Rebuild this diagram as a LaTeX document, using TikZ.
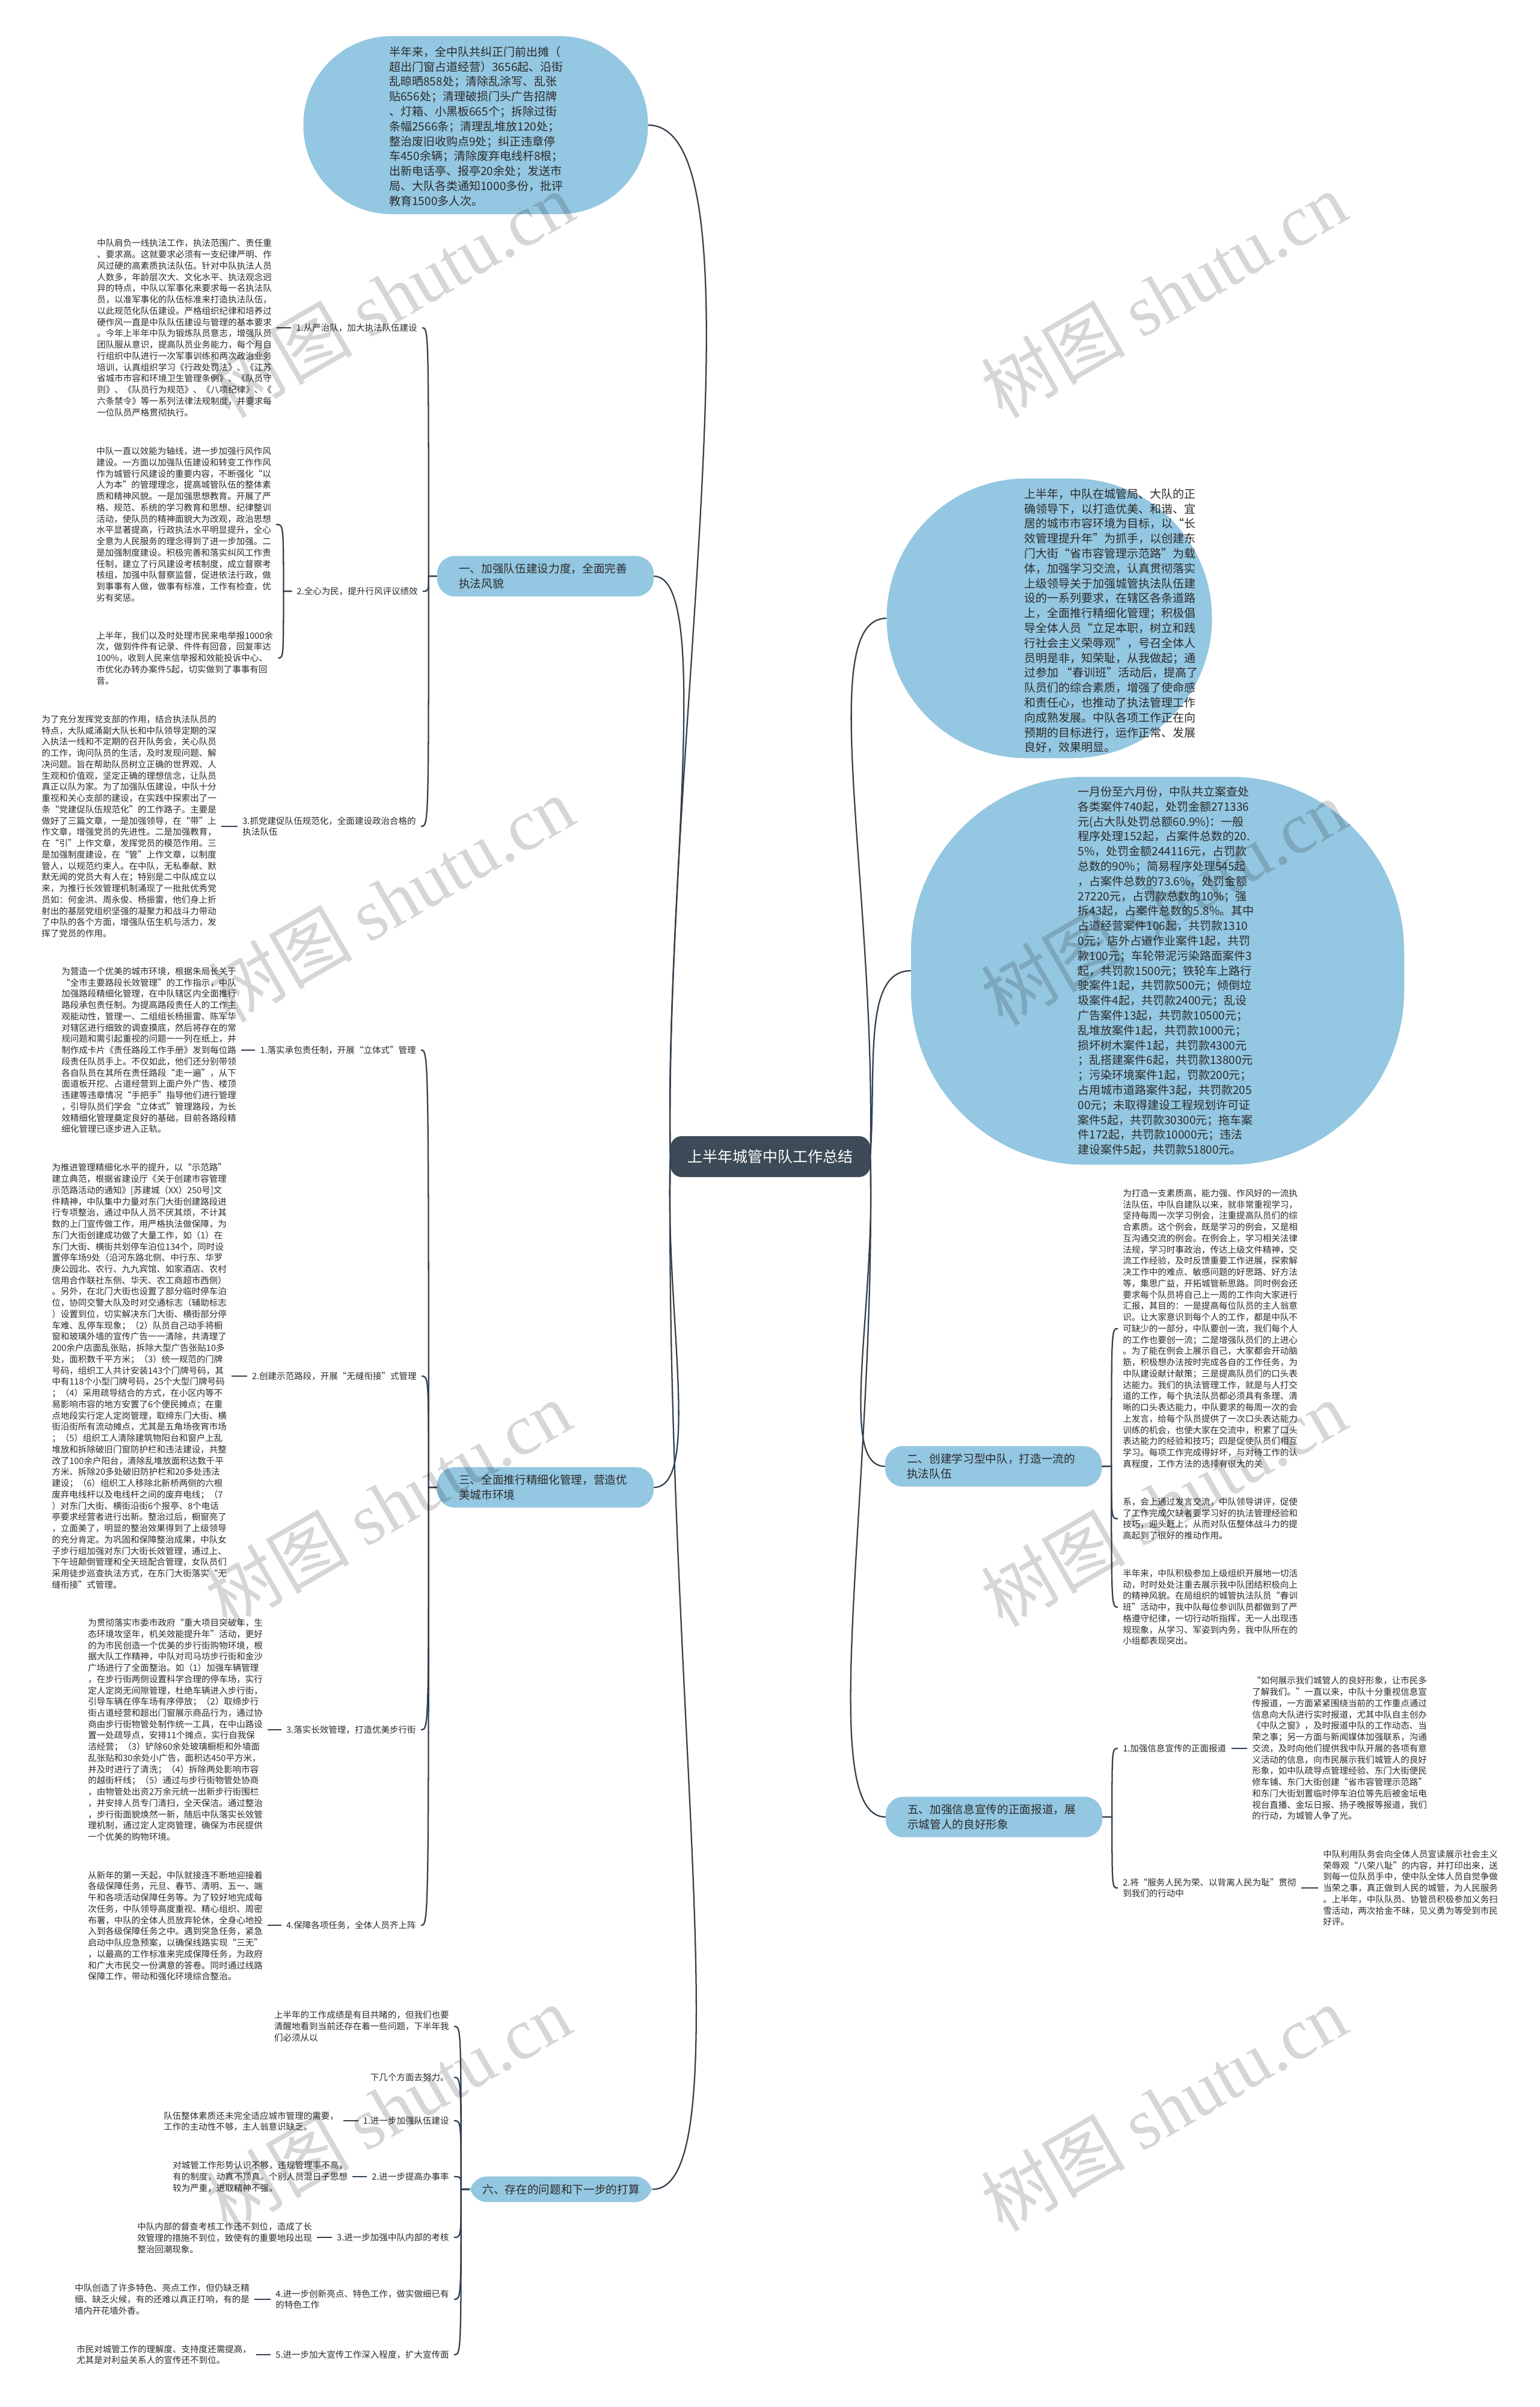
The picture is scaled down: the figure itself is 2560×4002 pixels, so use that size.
\documentclass[tikz,border=0pt]{standalone}
\usepackage{fontspec}
\setmainfont{Noto Sans CJK SC}
\newfontfamily\wmlatin{Liberation Serif}
\usetikzlibrary{positioning,calc}
\definecolor{bub}{HTML}{94C7E1}
\definecolor{rootc}{HTML}{3D4A57}
\definecolor{linec}{HTML}{33414F}
\definecolor{txtc}{HTML}{2B2B2B}
\tikzset{
  conn/.style={draw=linec, line width=1.7pt},
  txt/.style={font=\fontsize{10.9pt}{14.06pt}\selectfont, text=txtc, align=left, inner xsep=6pt, inner ysep=2pt},
  bubble/.style={fill=bub, inner sep=0pt},
  bubtxt/.style={font=\fontsize{14.25pt}{18.6pt}\selectfont, text=txtc, align=left, inner sep=0pt},
  branch/.style={fill=bub, rounded corners=22pt, font=\fontsize{14pt}{18.4pt}\selectfont, text=txtc, align=left, inner ysep=9.5pt},
  wide/.style={text width=216pt, inner xsep=27pt},
  root/.style={fill=rootc, rounded corners=14pt, text=white, font=\fontsize{18.75pt}{22pt}\selectfont, minimum width=249pt, minimum height=51pt},
  brL/.style={to path={-- ++(-#1,0) coordinate (tmpj) .. controls (tmpj |- \tikztotarget) and (tmpj |- \tikztotarget) .. (\tikztotarget)}},
  brL/.default=14,
  brR/.style={to path={-- ++(#1,0) coordinate (tmpj) .. controls (tmpj |- \tikztotarget) and (tmpj |- \tikztotarget) .. (\tikztotarget)}},
  brR/.default=16,
  wmark/.style={rotate=30, text=black, text opacity=0.16, font=\fontsize{90pt}{90pt}\selectfont}
}
\begin{document}
\begin{tikzpicture}[x=0.75pt, y=-0.75pt]
\useasboundingbox (0,0) rectangle (2560,4002);
\fill[white] (0,0) rectangle (2560,4002);

% centre
\node[root] (root) at (1281,1923) {上半年城管中队工作总结};

% top bubble
\node[bubble, minimum width=429.75pt, minimum height=222pt, rounded corners=110pt] (topb) at (791,208) {};
\node[bubtxt] (topbt) at (792,210) {半年来，全中队共纠正门前出摊（\\超出门窗占道经营）3656起、沿街\\乱晾晒858处；清除乱涂写、乱张\\贴656处；清理破损门头广告招牌\\、灯箱、小黑板665个；拆除过街\\条幅2566条；清理乱堆放120处；\\整治废旧收购点9处；纠正违章停\\车450余辆；清除废弃电线杆8根；\\出新电话亭、报亭20余处；发送市\\局、大队各类通知1000多份，批评\\教育1500多人次。};

% branch one
\node[branch, wide] (b1) at (907,958) {一、加强队伍建设力度，全面完善\\执法风貌};
\node[txt, anchor=east] (l11) at (702,545) {1.从严治队，加大执法队伍建设};
\node[txt, anchor=west] (t11) at (153,545) {中队肩负一线执法工作，执法范围广、责任重\\、要求高。这就要求必须有一支纪律严明、作\\风过硬的高素质执法队伍。针对中队执法人员\\人数多，年龄层次大、文化水平、执法观念迥\\异的特点，中队以军事化来要求每一名执法队\\员，以准军事化的队伍标准来打造执法队伍，\\以此规范化队伍建设。严格组织纪律和培养过\\硬作风一直是中队队伍建设与管理的基本要求\\。今年上半年中队为锻炼队员意志，增强队员\\团队服从意识，提高队员业务能力，每个月自\\行组织中队进行一次军事训练和两次政治业务\\培训，认真组织学习《行政处罚法》、《江苏\\省城市市容和环境卫生管理条例》、《队员守\\则》、《队员行为规范》、《八项纪律》、《\\六条禁令》等一系列法律法规制度，并要求每\\一位队员严格贯彻执行。};
\node[txt, anchor=east] (l12) at (703,983) {2.全心为民，提升行风评议绩效};
\node[txt, anchor=west] (t12a) at (152,872) {中队一直以效能为轴线，进一步加强行风作风\\建设。一方面以加强队伍建设和转变工作作风\\作为城管行风建设的重要内容，不断强化“以\\人为本”的管理理念，提高城管队伍的整体素\\质和精神风貌。一是加强思想教育。开展了严\\格、规范、系统的学习教育和思想、纪律整训\\活动，使队员的精神面貌大为改观，政治思想\\水平显著提高，行政执法水平明显提升，全心\\全意为人民服务的理念得到了进一步加强。二\\是加强制度建设。积极完善和落实纠风工作责\\任制，建立了行风建设考核制度，成立督察考\\核组，加强中队督察监督，促进依法行政，做\\到事事有人做，做事有标准，工作有检查，优\\劣有奖惩。};
\node[txt, anchor=west] (t12b) at (152,1094) {上半年，我们以及时处理市民来电举报1000余\\次，做到件件有记录、件件有回音，回复率达\\100\%，收到人民来信举报和效能投诉中心、\\市优化办转办案件5起，切实做到了事事有回\\音。};
\node[txt, anchor=east] (l13) at (700,1374) {3.抓党建促队伍规范化，全面建设政治合格的\\执法队伍};
\node[txt, anchor=west] (t13) at (61,1374) {为了充分发挥党支部的作用，结合执法队员的\\特点，大队咸涌副大队长和中队领导定期的深\\入执法一线和不定期的召开队务会，关心队员\\的工作，询问队员的生活，及时发现问题、解\\决问题。旨在帮助队员树立正确的世界观、人\\生观和价值观，坚定正确的理想信念，让队员\\真正以队为家。为了加强队伍建设，中队十分\\重视和关心支部的建设，在实践中探索出了一\\条“党建促队伍规范化”的工作路子。主要是\\做好了三篇文章，一是加强领导，在“带”上\\作文章，增强党员的先进性。二是加强教育，\\在“引”上作文章，发挥党员的模范作用。三\\是加强制度建设，在“管”上作文章，以制度\\管人，以规范约束人。在中队，无私奉献、默\\默无闻的党员大有人在；特别是二中队成立以\\来，为推行长效管理机制涌现了一批批优秀党\\员如：何金洪、周永俊、杨振雷，他们身上折\\射出的基层党组织坚强的凝聚力和战斗力带动\\了中队的各个方面，增强队伍生机与活力，发\\挥了党员的作用。};

% branch three
\node[branch, wide] (b3) at (907,2473) {三、全面推行精细化管理，营造优\\美城市环境};
\node[txt, anchor=east] (l31) at (700,1746) {1.落实承包责任制，开展“立体式”管理};
\node[txt, anchor=west] (t31) at (94,1746) {为营造一个优美的城市环境，根据朱局长关于\\“全市主要路段长效管理”的工作指示，中队\\加强路段精细化管理，在中队辖区内全面推行\\路段承包责任制。为提高路段责任人的工作主\\观能动性，管理一、二组组长杨振雷、陈军华\\对辖区进行细致的调查摸底，然后将存在的常\\规问题和需引起重视的问题一一列在纸上，并\\制作成卡片《责任路段工作手册》发到每位路\\段责任队员手上。不仅如此，他们还分别带领\\各自队员在其所在责任路段“走一遍”，从下\\面道板开挖、占道经营到上面户外广告、楼顶\\违建等违章情况“手把手”指导他们进行管理\\，引导队员们学会“立体式”管理路段，为长\\效精细化管理奠定良好的基础，目前各路段精\\细化管理已逐步进入正轨。};
\node[txt, anchor=east] (l32) at (701,2288) {2.创建示范路段，开展“无缝衔接”式管理};
\node[txt, anchor=west] (t32) at (78,2288) {为推进管理精细化水平的提升，以“示范路”\\建立典范，根据省建设厅《关于创建市容管理\\示范路活动的通知》[苏建城（XX）250号]文\\件精神，中队集中力量对东门大街创建路段进\\行专项整治，通过中队人员不厌其烦，不计其\\数的上门宣传做工作，用严格执法做保障，为\\东门大街创建成功做了大量工作，如（1）在\\东门大街、横街共划停车泊位134个，同时设\\置停车场9处（沿河东路北侧、中行东、华罗\\庚公园北、农行、九九宾馆、如家酒店、农村\\信用合作联社东侧、华天、农工商超市西侧）\\。另外，在北门大街也设置了部分临时停车泊\\位，协同交警大队及时对交通标志（辅助标志\\）设置到位，切实解决东门大街、横街部分停\\车难、乱停车现象；（2）队员自己动手将橱\\窗和玻璃外墙的宣传广告一一清除，共清理了\\200余户店面乱张贴，拆除大型广告张贴10多\\处，面积数千平方米；（3）统一规范的门牌\\号码，组织工人共计安装143个门牌号码，其\\中有118个小型门牌号码，25个大型门牌号码\\；（4）采用疏导结合的方式，在小区内等不\\易影响市容的地方安置了6个便民摊点；在重\\点地段实行定人定岗管理，取缔东门大街、横\\街沿街所有流动摊点，尤其是五角场夜宵市场\\；（5）组织工人清除建筑物阳台和窗户上乱\\堆放和拆除破旧门窗防护栏和违法建设，共整\\改了100余户阳台，清除乱堆放面积达数千平\\方米、拆除20多处破旧防护栏和20多处违法\\建设；（6）组织工人移除北新桥两侧的六根\\废弃电线杆以及电线杆之间的废弃电线；（7\\）对东门大街、横街沿街6个报亭、8个电话\\亭要求经营者进行出新。整治过后，橱窗亮了\\，立面美了，明显的整治效果得到了上级领导\\的充分肯定。为巩固和保障整治成果，中队女\\子步行组加强对东门大街长效管理，通过上、\\下午班颠倒管理和全天班配合管理，女队员们\\采用徒步巡查执法方式，在东门大街落实“无\\缝衔接”式管理。};
\node[txt, anchor=east] (l33) at (700,2876) {3.落实长效管理，打造优美步行街};
\node[txt, anchor=west] (t33) at (138,2876) {为贯彻落实市委市政府“重大项目突破年，生\\态环境攻坚年，机关效能提升年”活动，更好\\的为市民创造一个优美的步行街购物环境，根\\据大队工作精神，中队对司马坊步行街和金沙\\广场进行了全面整治。如（1）加强车辆管理\\，在步行街两侧设置科学合理的停车场，实行\\定人定岗无间隙管理，杜绝车辆进入步行街，\\引导车辆在停车场有序停放；（2）取缔步行\\街占道经营和超出门窗展示商品行为，通过协\\商由步行街物管处制作统一工具，在中山路设\\置一处疏导点，安排11个摊点，实行自我保\\洁经营；（3）铲除60余处玻璃橱柜和外墙面\\乱张贴和30余处小广告，面积达450平方米，\\并及时进行了清洗；（4）拆除两处影响市容\\的越街杆线；（5）通过与步行街物管处协商\\，由物管处出资2万余元统一出新步行街围栏\\，并安排人员专门清扫，全天保洁。通过整治\\，步行街面貌焕然一新，随后中队落实长效管\\理机制，通过定人定岗管理，确保为市民提供\\一个优美的购物环境。};
\node[txt, anchor=east] (l34) at (700,3201) {4.保障各项任务，全体人员齐上阵};
\node[txt, anchor=west] (t34) at (138,3202) {从新年的第一天起，中队就接连不断地迎接着\\各级保障任务，元旦、春节、清明、五一、端\\午和各项活动保障任务等。为了较好地完成每\\次任务，中队领导高度重视、精心组织、周密\\布署，中队的全体人员放弃轮休，全身心地投\\入到各级保障任务之中。遇到突急任务，紧急\\启动中队应急预案，以确保线路实现“三无”\\，以最高的工作标准来完成保障任务，为政府\\和广大市民交一份满意的答卷。同时通过线路\\保障工作，带动和强化环境综合整治。};

% branch six
\node[branch, inner xsep=16pt] (b6) at (933,3640) {六、存在的问题和下一步的打算};
\node[txt, anchor=east] (t61) at (755,3369) {上半年的工作成绩是有目共睹的，但我们也要\\清醒地看到当前还存在着一些问题，下半年我\\们必须从以};
\node[txt, anchor=east] (t62) at (755,3454) {下几个方面去努力。};
\node[txt, anchor=east] (l61) at (755,3526) {1.进一步加强队伍建设};
\node[txt, anchor=west] (t63) at (264,3527) {队伍整体素质还未完全适应城市管理的需要，\\工作的主动性不够，主人翁意识缺乏。};
\node[txt, anchor=east] (l62) at (755,3619) {2.进一步提高办事率};
\node[txt, anchor=west] (t64) at (279,3619) {对城管工作形势认识不够，违规管理率不高，\\有的制度，动真不顶真。个别人员混日子思想\\较为严重，进取精神不强。};
\node[txt, anchor=east] (l63) at (755,3720) {3.进一步加强中队内部的考核};
\node[txt, anchor=west] (t65) at (220,3721) {中队内部的督查考核工作还不到位，造成了长\\效管理的措施不到位，致使有的重要地段出现\\整治回潮现象。};
\node[txt, anchor=east] (l64) at (755,3823) {4.进一步创新亮点、特色工作，做实做细已有\\的特色工作};
\node[txt, anchor=west] (t66) at (116,3823) {中队创造了许多特色、亮点工作，但仍缺乏精\\细、缺乏火候，有的还难以真正打响，有的是\\墙内开花墙外香。};
\node[txt, anchor=east] (l65) at (755,3915) {5.进一步加大宣传工作深入程度，扩大宣传面};
\node[txt, anchor=west] (t67) at (119,3915) {市民对城管工作的理解度、支持度还需提高，\\尤其是对利益关系人的宣传还不到位。};

% right bubbles
\node[bubble, minimum width=405.75pt, minimum height=348.75pt, rounded corners=174pt] (rb1) at (1745,1028) {};
\node[bubtxt] (rb1t) at (1848,1032) {上半年，中队在城管局、大队的正\\确领导下，以打造优美、和谐、宜\\居的城市市容环境为目标，以“长\\效管理提升年”为抓手，以创建东\\门大街“省市容管理示范路”为载\\体，加强学习交流，认真贯彻落实\\上级领导关于加强城管执法队伍建\\设的一系列要求，在辖区各条道路\\上，全面推行精细化管理；积极倡\\导全体人员“立足本职，树立和践\\行社会主义荣辱观”，号召全体人\\员明是非，知荣耻，从我做起；通\\过参加 “春训班”活动后，提高了\\队员们的综合素质，增强了使命感\\和责任心，也推动了执法管理工作\\向成熟发展。中队各项工作正在向\\预期的目标进行，运作正常、发展\\良好，效果明显。};
\node[bubble, minimum width=615pt, minimum height=483.75pt, rounded corners=217pt] (rb2) at (1925,1614) {};
\node[bubtxt] (rb2t) at (1939,1614) {一月份至六月份，中队共立案查处\\各类案件740起，处罚金额271336\\元(占大队处罚总额60.9\%)：一般\\程序处理152起，占案件总数的20.\\5\%，处罚金额244116元，占罚款\\总数的90\%；简易程序处理545起\\，占案件总数的73.6\%，处罚金额\\27220元，占罚款总数的10\%；强\\拆43起，占案件总数的5.8\%。其中\\占道经营案件106起，共罚款1310\\0元；店外占道作业案件1起，共罚\\款100元；车轮带泥污染路面案件3\\起，共罚款1500元；铁轮车上路行\\驶案件1起，共罚款500元；倾倒垃\\圾案件4起，共罚款2400元；乱设\\广告案件13起，共罚款10500元；\\乱堆放案件1起，共罚款1000元；\\损坏树木案件1起，共罚款4300元\\；乱搭建案件6起，共罚款13800元\\；污染环境案件1起，罚款200元；\\占用城市道路案件3起，共罚款205\\00元；未取得建设工程规划许可证\\案件5起，共罚款30300元；拖车案\\件172起，共罚款10000元；违法\\建设案件5起，共罚款51800元。};

% branch two
\node[branch, wide] (b2) at (1652,2438) {二、创建学习型中队，打造一流的\\执法队伍};
\node[txt, anchor=west] (t21) at (1859,2209) {为打造一支素质高，能力强、作风好的一流执\\法队伍，中队自建队以来，就非常重视学习，\\坚持每周一次学习例会，注重提高队员们的综\\合素质。这个例会，既是学习的例会，又是相\\互沟通交流的例会。在例会上，学习相关法律\\法规，学习时事政治，传达上级文件精神，交\\流工作经验，及时反馈重要工作进展，探索解\\决工作中的难点、敏感问题的好思路、好方法\\等，集思广益，开拓城管新思路。同时例会还\\要求每个队员将自己上一周的工作向大家进行\\汇报，其目的：一是提高每位队员的主人翁意\\识。让大家意识到每个人的工作，都是中队不\\可缺少的一部分，中队要创一流，我们每个人\\的工作也要创一流；二是增强队员们的上进心\\。为了能在例会上展示自己，大家都会开动脑\\筋，积极想办法按时完成各自的工作任务，为\\中队建设献计献策；三是提高队员们的口头表\\达能力。我们的执法管理工作，就是与人打交\\道的工作，每个执法队员都必须具有条理、清\\晰的口头表达能力，中队要求的每周一次的会\\上发言，给每个队员提供了一次口头表达能力\\训练的机会，也使大家在交流中，积累了口头\\表达能力的经验和技巧；四是促使队员们相互\\学习。每项工作完成得好坏，与对待工作的认\\真程度，工作方法的选择有很大的关};
\node[txt, anchor=west] (t22) at (1859,2525) {系，会上通过发言交流，中队领导讲评，促使\\了工作完成欠缺者要学习好的执法管理经验和\\技巧，迎头赶上，从而对队伍整体战斗力的提\\高起到了很好的推动作用。};
\node[txt, anchor=west] (t23) at (1859,2672) {半年来，中队积极参加上级组织开展地一切活\\动，时时处处注重去展示我中队团结积极向上\\的精神风貌。在局组织的城管执法队员“春训\\班”活动中，我中队每位参训队员都做到了严\\格遵守纪律，一切行动听指挥，无一人出现违\\规现象，从学习、军姿到内务，我中队所在的\\小组都表现突出。};

% branch five
\node[branch, wide] (b5) at (1653,3021) {五、加强信息宣传的正面报道，展\\示城管人的良好形象};
\node[txt, anchor=west] (l51) at (1859,2907) {1.加强信息宣传的正面报道};
\node[txt, anchor=west] (t51) at (2074,2907) {“如何展示我们城管人的良好形象，让市民多\\了解我们。”一直以来，中队十分重视信息宣\\传报道，一方面紧紧围绕当前的工作重点通过\\信息向大队进行实时报道，尤其中队自主创办\\《中队之窗》，及时报道中队的工作动态、当\\荣之事；另一方面与新闻媒体加强联系，沟通\\交流，及时向他们提供我中队开展的各项有意\\义活动的信息，向市民展示我们城管人的良好\\形象，如中队疏导点管理经验、东门大街便民\\修车铺、东门大街创建“省市容管理示范路”\\和东门大街划置临时停车泊位等先后被金坛电\\视台直播、金坛日报、扬子晚报等报道，我们\\的行动，为城管人争了光。};
\node[txt, anchor=west] (l52) at (1859,3139) {2.将“服务人民为荣、以背离人民为耻”贯彻\\到我们的行动中};
\node[txt, anchor=west] (t52) at (2192,3139) {中队利用队务会向全体人员宣读展示社会主义\\荣辱观“八荣八耻”的内容，并打印出来，送\\到每一位队员手中，使中队全体人员自觉争做\\当荣之事，真正做到人民的城管，为人民服务\\。上半年，中队队员、协管员积极参加义务扫\\雪活动，两次拾金不昧，见义勇为等受到市民\\好评。};

% main connectors
\draw[conn] (root.west) .. controls +(-10,-700) and +(200,0) .. (topb.east);
\draw[conn] (root.west) .. controls +(-10,-400) and +(100,0) .. (b1.east);
\draw[conn] (root.west) .. controls +(-10,250) and +(80,0) .. (b3.east);
\draw[conn] (root.west) .. controls +(-10,900) and +(150,0) .. (b6.east);
\draw[conn] (root.east) .. controls +(10,-450) and +(-120,0) .. (rb1.west);
\draw[conn] (root.east) .. controls +(10,-150) and +(-80,0) .. (rb2.west);
\draw[conn] (root.east) .. controls +(10,250) and +(-80,0) .. (b2.west);
\draw[conn] (root.east) .. controls +(10,550) and +(-120,0) .. (b5.west);

% branch brackets
\foreach \c in {l11,l12,l13} \draw[conn] (b1.west) to[brL] (\c.east);
\foreach \c in {l31,l32,l33,l34} \draw[conn] (b3.west) to[brL] (\c.east);
\foreach \c in {t61,t62,l61,l62,l63,l64,l65} \draw[conn] (b6.west) to[brL] (\c.east);
\foreach \c in {t12a,t12b} \draw[conn] (l12.west) to[brL] (\c.east);
\foreach \c in {t21,t22,t23} \draw[conn] (b2.east) to[brR] (\c.west);
\foreach \c in {l51,l52} \draw[conn] (b5.east) to[brR] (\c.west);

% label to text
\foreach \a/\b in {l11/t11,l13/t13,l31/t31,l32/t32,l33/t33,l34/t34,l61/t63,l62/t64,l63/t65,l64/t66,l65/t67}
  \draw[conn] (\a.west) -- (\b.east |- \a.west);
\foreach \a/\b in {l51/t51,l52/t52}
  \draw[conn] (\a.east) -- (\b.west |- \a.east);

% watermark
\foreach \wx/\wy [count=\i] in {650/490,1935/490,650/1495,1935/1500,645/2500,1935/2500,645/3505,1935/3505}
  \node[wmark] (wm\i) at (\wx,\wy) {树图 {\wmlatin shutu.cn}};
\end{tikzpicture}
\end{document}
